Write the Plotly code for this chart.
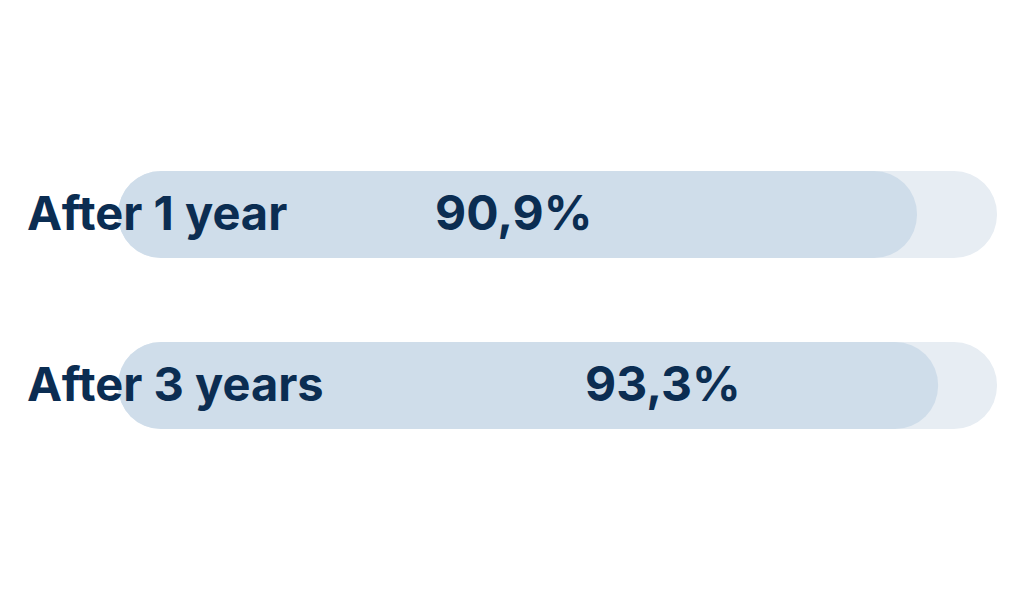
import plotly.graph_objects as go

categories = ["After 1 year", "After 3 years"]
values = [90.9, 93.3]
value_labels = ["90,9%", "93,3%"]
track_max = 100

# layout constants (not data)
W, H = 1024, 600
BODY = 8  # default page margin of the html body
ML, MR, MT, MB = 118 - BODY, 27 + BODY, 129 - BODY, 129 + BODY
VALUE_TEXT_X = [35.8, 52.9]  # left edge of the value text, in axis units

NAVY = "#0B2D52"
FILL = "#CFDDEA"
TRACK = "#E7EDF3"
FONT = "Inter"

fig = go.Figure()

def pill(vals, color, name):
    fig.add_trace(go.Bar(y=categories, x=vals, base=[0] * len(vals),
                         orientation="h", marker=dict(color=color, cornerradius="50%", line=dict(width=0)),
                         hoverinfo="skip", name=name, showlegend=False))

pill([track_max] * len(categories), TRACK, "track")
pill(values, FILL, "value")

annotations = []
plot_w = W - ML - MR
for i, cat in enumerate(categories):
    annotations.append(dict(xref="paper", yref="y", x=(25 - 118) / plot_w, y=cat,
                            text=cat, showarrow=False, xanchor="left", yanchor="middle", yshift=2,
                            font=dict(family=FONT, size=47, color=NAVY, weight="bold")))
    annotations.append(dict(xref="x", yref="y", x=VALUE_TEXT_X[i], y=cat,
                            text=value_labels[i], showarrow=False, xanchor="left", yanchor="middle", yshift=2,
                            font=dict(family=FONT, size=48, color=NAVY, weight="bold")))

fig.update_layout(
    width=W, height=H,
    margin=dict(l=ML, r=MR, t=MT, b=MB),
    barmode="overlay", bargap=0.49,
    plot_bgcolor="white", paper_bgcolor="white",
    xaxis=dict(range=[0, track_max], visible=False, fixedrange=True),
    yaxis=dict(range=[1.5, -0.5], visible=False, categoryorder="array", categoryarray=categories, fixedrange=True),
    annotations=annotations,
    showlegend=False,
)

fig.write_html("out.html", config={"displayModeBar": False})
